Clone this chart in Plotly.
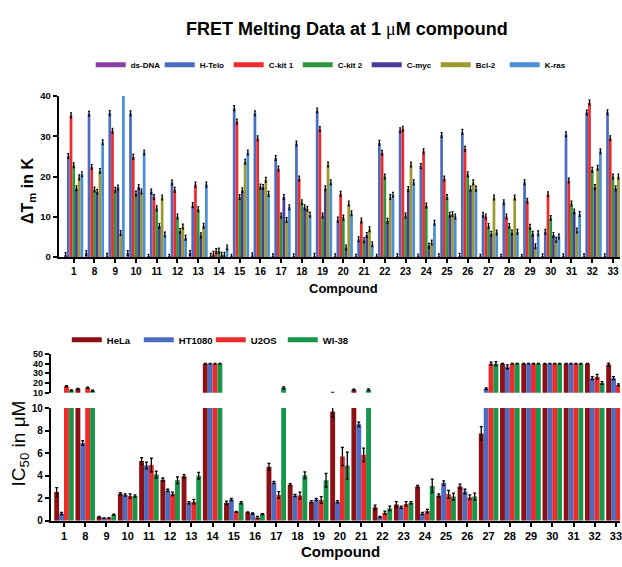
import plotly.graph_objects as go

# ---------------- data ----------------
compounds = ["1", "8", "9", "10", "11", "12", "13", "14", "15", "16", "17", "18", "19", "20",
             "21", "22", "23", "24", "25", "26", "27", "28", "29", "30", "31", "32", "33"]

# FRET melting: Delta Tm (K) at 1 uM compound
ds_dna = [0.5, 1.0, 0.3, 1.0, 0.1, 0.1, 1.0, 0.3, 0.1, 0.4, 0.2, 0.2, 0.3, 0.2, 0.1, 0.1, 0.2,
          0.1, 0.2, 0.3, 0.1, 0.1, 0.1, 0.2, 0.2, 0.2, 0.2]
h_telo = [25.1, 35.6, 35.8, 35.7, 16.3, 18.5, 12.9, 0.8, 37.0, 35.7, 24.6, 28.2, 36.4, 9.3, 4.4,
          28.4, 31.5, 22.6, 30.3, 31.1, 10.5, 13.6, 18.6, 6.3, 30.5, 35.9, 36.0]
c_kit1 = [35.2, 22.4, 31.4, 24.9, 14.9, 16.7, 18.0, 1.5, 33.7, 29.5, 22.0, 19.5, 31.8, 15.7, 9.1,
          25.9, 31.9, 26.3, 19.5, 26.9, 10.1, 10.1, 14.0, 15.6, 19.0, 38.4, 29.5]
c_kit2 = [22.8, 16.8, 16.7, 15.8, 12.1, 10.1, 11.9, 1.6, 14.9, 17.5, 10.3, 13.6, 10.3, 9.8, 4.2,
          20.0, 10.3, 12.8, 14.9, 20.6, 7.7, 7.7, 7.5, 9.7, 13.3, 21.7, 20.0]
c_myc = [17.1, 16.2, 17.3, 17.4, 7.7, 6.5, 5.4, 0.6, 16.6, 17.4, 14.9, 12.4, 17.1, 2.4, 5.5,
         9.0, 16.9, 2.8, 10.5, 17.0, 5.8, 6.1, 5.8, 5.5, 11.3, 17.4, 17.1]
bcl_2 = [19.8, 21.4, 6.0, 16.3, 14.8, 7.6, 7.8, 0.6, 23.7, 19.2, 9.2, 12.0, 23.0, 13.3, 6.9,
         14.9, 23.0, 3.6, 10.7, 18.6, 14.8, 14.8, 2.7, 4.3, 6.6, 22.2, 20.0]
k_ras = [20.6, 28.5, 42.0, 26.0, 5.6, 4.8, 18.0, 2.4, 26.0, 15.7, 12.4, 10.5, 18.6, 10.9, 3.2,
         15.5, 18.6, 8.5, 10.1, 17.0, 6.1, 6.3, 5.9, 5.1, 10.7, 26.3, 20.0]

# IC50 (uM)
hela = [2.55, 14.0, 0.35, 2.4, 5.3, 3.65, 3.95, 40, 1.6, 0.75, 4.8, 3.2, 1.7, 9.7, 13.0, 1.2,
        1.45, 3.05, 2.25, 3.05, 7.75, 40, 40, 40, 40, 40, 39]
ht1080 = [0.66, 6.9, 0.25, 2.3, 4.9, 2.7, 1.6, 40, 1.9, 0.65, 3.4, 2.25, 1.9, 1.7, 8.55, 0.35,
          1.2, 0.66, 3.35, 2.6, 14.0, 36.7, 40, 40, 40, 25, 25]
u2os = [16.7, 15.0, 0.25, 2.2, 4.95, 2.4, 1.7, 40, 0.8, 0.3, 2.3, 2.25, 1.85, 5.7, 5.85, 0.72,
        1.5, 0.87, 2.35, 2.1, 40, 40, 40, 40, 40, 26.5, 18]
wi38 = [12.3, 12.0, 0.55, 2.2, 4.1, 3.6, 4.0, 40, 1.6, 0.6, 15.0, 4.05, 3.6, 4.9, 13.0, 1.1,
        1.6, 3.1, 2.15, 2.15, 40, 40, 40, 40, 40, 20.0, 15]

hela_err = [0.4, 0.4, 0.05, 0.1, 0.3, 0.15, 0.15, 0.3, 0.15, 0.05, 0.3, 0.1, 0.1, 0.5, 0.5, 0.2,
            0.25, 0.1, 0.15, 0.2, 0.6, 0.3, 0.3, 0.3, 0.3, 0.3, 1.5]
ht1080_err = [0.1, 0.2, 0.02, 0.1, 0.3, 0.1, 0.1, 0.3, 0.1, 0.05, 0.1, 0.1, 0.1, 0.1, 0.2, 0.05,
              0.1, 0.1, 0.2, 0.2, 0.8, 2.0, 0.3, 0.3, 0.3, 1.5, 1.5]
u2os_err = [0.6, 0.6, 0.03, 0.2, 0.6, 0.15, 0.2, 0.3, 0.05, 0.1, 0.3, 0.3, 0.3, 0.8, 0.6, 0.15,
            0.2, 0.15, 0.35, 0.2, 1.5, 0.3, 0.3, 0.3, 0.3, 2.5, 1.0]
wi38_err = [0.5, 0.5, 0.05, 0.1, 0.3, 0.3, 0.3, 0.3, 0.1, 0.05, 1.0, 0.3, 0.6, 1.2, 1.0, 0.2,
            0.1, 0.6, 0.3, 0.3, 2.0, 0.3, 0.3, 0.3, 0.3, 1.5, 1.0]

top_series = [
    ("ds-DNA", ds_dna, "#8A3FA8"),
    ("H-Telo", h_telo, "#4B6CC1"),
    ("C-kit 1", c_kit1, "#EE2A2B"),
    ("C-kit 2", c_kit2, "#2F963B"),
    ("C-myc", c_myc, "#4A3B9A"),
    ("Bcl-2", bcl_2, "#9C9A2E"),
    ("K-ras", k_ras, "#4A8ED8"),
]
bottom_series = [
    ("HeLa", hela, hela_err, "#8C1014"),
    ("HT1080", ht1080, ht1080_err, "#4B6CC1"),
    ("U2OS", u2os, u2os_err, "#EE2A2B"),
    ("WI-38", wi38, wi38_err, "#17964A"),
]

FONT = "Liberation Sans"
W, H = 622, 567

fig = go.Figure()

for name, vals, color in top_series:
    fig.add_trace(go.Bar(
        x=compounds, y=vals, marker=dict(color=color, line=dict(width=0)),
        error_y=dict(type="constant", value=0.6, color="black", thickness=1.2, width=1),
        xaxis="x", yaxis="y", showlegend=False, name=name))
    fig.add_trace(go.Scatter(
        x=[None], y=[None], mode="lines", line=dict(color=color, width=5),
        name=name, legend="legend", xaxis="x", yaxis="y"))

for name, vals, errs, color in bottom_series:
    for xa, ya in (("x2", "y2"), ("x3", "y3")):
        fig.add_trace(go.Bar(
            x=compounds, y=vals, marker=dict(color=color, line=dict(width=0)),
            error_y=dict(type="data", array=errs, color="black", thickness=1.3, width=1.5),
            xaxis=xa, yaxis=ya, showlegend=False, name=name))
    fig.add_trace(go.Scatter(
        x=[None], y=[None], mode="lines", line=dict(color=color, width=5),
        name=name, legend="legend2", xaxis="x2", yaxis="y2"))


def py(pix):
    return (H - pix) / H


axis_common = dict(showline=True, linecolor="black", linewidth=2, ticks="outside",
                   tickcolor="black", tickwidth=1.5, ticklen=4, showgrid=False,
                   zeroline=False, fixedrange=True)

fig.update_layout(
    width=W, height=H,
    margin=dict(l=0, r=0, t=0, b=0),
    paper_bgcolor="white", plot_bgcolor="white",
    barmode="group", bargap=0.08, bargroupgap=0,
    font=dict(family=FONT, color="black"),
    xaxis=dict(domain=[59 / W, 1], range=[-0.72, 26.34], type="category", anchor="y",
               tickfont=dict(size=10, weight="bold"), **axis_common),
    yaxis=dict(domain=[py(256.5), py(92)], range=[0, 40], tickvals=[0, 10, 20, 30, 40],
               anchor="x", tickfont=dict(size=9.5, weight="bold"), **axis_common),
    xaxis2=dict(domain=[51 / W, 1], range=[-0.62, 26.19], type="category", anchor="y2",
                tickfont=dict(size=11, weight="bold"), **axis_common),
    yaxis2=dict(domain=[py(526), py(410.7)], range=[0, 10], tickvals=[0, 2, 4, 6, 8, 10],
                anchor="x2", tickfont=dict(size=10, weight="bold"), **axis_common),
    xaxis3=dict(domain=[51 / W, 1], range=[-0.62, 26.19], type="category", anchor="y3",
                matches="x2", visible=False),
    yaxis3=dict(domain=[py(395), py(355.5)], range=[10, 50], tickvals=[10, 20, 30, 40, 50],
                anchor="x3", tickfont=dict(size=9, weight="bold"), **axis_common),
    legend=dict(orientation="h", x=91 / W, xanchor="left", y=py(60), yanchor="middle",
                font=dict(size=8, weight="bold"), itemwidth=30, entrywidth=24,
                bgcolor="rgba(0,0,0,0)", tracegroupgap=0),
    legend2=dict(orientation="h", x=67 / W, xanchor="left", y=py(341), yanchor="middle",
                 font=dict(size=9.5, weight="bold"), itemwidth=30, entrywidth=27,
                 bgcolor="rgba(0,0,0,0)"),
    annotations=[
        dict(text="FRET Melting Data at 1 <span style=\"font-family:'Liberation Serif';"
                  "font-weight:normal\">\u03bc</span>M compound",
             x=348 / W, y=py(23), xref="paper", yref="paper", showarrow=False,
             font=dict(size=18, weight="bold"), xanchor="center", yanchor="middle"),
        dict(text="\u0394T<sub>m</sub> in K", x=28 / W, y=py(189), xref="paper", yref="paper",
             showarrow=False, textangle=-90, font=dict(size=16, weight="bold"),
             xanchor="center", yanchor="middle"),
        dict(text="Compound", x=345 / W, y=py(289), xref="paper", yref="paper",
             showarrow=False, font=dict(size=13, weight="bold"),
             xanchor="center", yanchor="middle"),
        dict(text="IC<sub>50</sub> in \u03bcM", x=20 / W, y=py(447), xref="paper",
             yref="paper", showarrow=False, textangle=-90, font=dict(size=19),
             xanchor="center", yanchor="middle"),
        dict(text="Compound", x=342 / W, y=py(557), xref="paper", yref="paper",
             showarrow=False, font=dict(size=15, weight="bold"),
             xanchor="center", yanchor="middle"),
    ],
)

fig.write_html("out.html",
               config={"displayModeBar": False},
               post_script="document.body.style.margin='0';"
                           "document.documentElement.style.overflow='hidden';")
